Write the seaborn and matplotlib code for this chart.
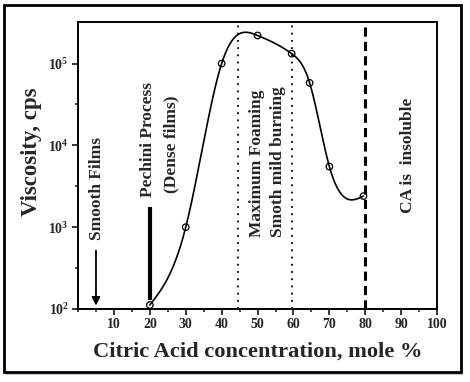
import numpy as np
import matplotlib
matplotlib.use("Agg")
import matplotlib.pyplot as plt
import matplotlib.ticker as mticker
from matplotlib.patches import Rectangle
import seaborn as sns
import pandas as pd

# ---- data ----
ca_mole_pct = [20, 30, 40, 50, 59.5, 64.5, 70, 79.5]
viscosity_cps = [112, 1000, 1.0e5, 2.2e5, 1.32e5, 5.8e4, 5.5e3, 2.4e3]
x_tick_labels = ["10", "20", "30", "40", "50", "60", "70", "80", "90", "100"]
y_tick_exps = [2, 3, 4, 5]

sns.set_theme(style="ticks")
plt.rcParams['font.family'] = ['Liberation Serif', 'DejaVu Serif']
plt.rcParams['font.weight'] = 'bold'
plt.rcParams['mathtext.fontset'] = 'custom'
plt.rcParams['mathtext.rm'] = 'Liberation Serif:bold'
plt.rcParams['mathtext.bf'] = 'Liberation Serif:bold'

df = pd.DataFrame({"x": ca_mole_pct, "y": viscosity_cps})

# natural cubic spline through the points in log-space (rendering of the smooth connecting line)
def natural_spline(x, y, xs):
    x = np.asarray(x, float); y = np.asarray(y, float)
    n = len(x); h = np.diff(x)
    A = np.zeros((n, n)); r = np.zeros(n)
    A[0, 0] = 1; A[-1, -1] = 1
    for i in range(1, n - 1):
        A[i, i - 1] = h[i - 1]; A[i, i] = 2 * (h[i - 1] + h[i]); A[i, i + 1] = h[i]
        r[i] = 6 * ((y[i + 1] - y[i]) / h[i] - (y[i] - y[i - 1]) / h[i - 1])
    M = np.linalg.solve(A, r)
    out = np.empty_like(xs)
    for k, xv in enumerate(xs):
        i = min(max(np.searchsorted(x, xv) - 1, 0), n - 2)
        t1 = x[i + 1] - xv; t0 = xv - x[i]
        out[k] = (M[i] * t1**3 + M[i + 1] * t0**3) / (6 * h[i]) \
            + (y[i] / h[i] - M[i] * h[i] / 6) * t1 + (y[i + 1] / h[i] - M[i + 1] * h[i] / 6) * t0
    return out

xs = np.linspace(ca_mole_pct[0], ca_mole_pct[-1], 400)
ys = 10 ** natural_spline(ca_mole_pct, np.log10(viscosity_cps), xs)
curve = pd.DataFrame({"x": xs, "y": ys})

fig = plt.figure(figsize=(4.70, 3.82), dpi=100)
ax = fig.add_axes([0.166, 0.191, 0.764, 0.751])

sns.lineplot(data=curve, x="x", y="y", ax=ax, color="black", lw=1.2, sort=False)
sns.scatterplot(data=df, x="x", y="y", ax=ax, marker="o", s=22, facecolor="none",
                edgecolor="black", linewidth=0.9, zorder=5)

ax.set_yscale("log")
ax.set_xlim(0, 100)
ax.set_ylim(100, 3.2e5)

ax.set_xticks(np.arange(10, 101, 10))
ax.set_xticklabels(x_tick_labels)
ax.xaxis.set_minor_locator(mticker.FixedLocator(np.arange(0, 101, 5)))
ax.set_yticks([10.0 ** e for e in y_tick_exps])
ax.set_yticklabels([r"$\mathbf{10^{%d}}$" % e for e in y_tick_exps])
ax.yaxis.set_minor_locator(mticker.FixedLocator([10 ** 2.5, 10 ** 3.5, 10 ** 4.5]))
ax.yaxis.set_minor_formatter(mticker.NullFormatter())
ax.tick_params(which="major", direction="out", length=4.5, width=1.3, labelsize=10, pad=2)
ax.tick_params(which="minor", direction="out", length=2.5, width=1.2)
for lab in ax.get_xticklabels() + ax.get_yticklabels():
    lab.set_fontweight("bold")
for sp in ax.spines.values():
    sp.set_visible(True); sp.set_linewidth(1.4); sp.set_color("black")

ax.set_xlabel("Citric Acid concentration, mole %", fontsize=16.2, fontweight="bold")
ax.set_ylabel("Viscosity, cps", fontsize=16.5, fontweight="bold")
ax.xaxis.set_label_coords(0.5, -0.112)
ax.yaxis.set_label_coords(-0.10, 0.548)

# reference lines
ax.axvline(44.5, color="black", lw=1.3, ls=(0, (1, 3)))
ax.axvline(59.6, color="black", lw=1.3, ls=(0, (1, 3)))
ax.axvline(80, color="black", lw=2.2, ls=(0, (3, 1.7)))

# markers for regions
ax.annotate("", xy=(5, 102), xytext=(5, 560),
            arrowprops=dict(arrowstyle="-|>", color="black", lw=1.3, mutation_scale=12))
ax.plot([20, 20], [128, 1780], color="black", lw=3, solid_capstyle="butt")

tk = dict(rotation=90, ha="center", va="bottom", fontsize=12.5, fontweight="bold")
ax.text(5.3, 700, "Smooth Films", **tk)
ax.text(19.6, 2350, "Pechini Process", **tk)
ax.text(26, 2600, "(Dense films)", **tk)
ax.text(49.8, 760, "Maximum Foaming", **tk)
ax.text(55.8, 760, "Smoth mild burning", **tk)
ax.text(92, 1480, "CA is  insoluble", **tk)

# outer frame with shadow
fig.patches.append(Rectangle((6 / 470, 1 - 375 / 382), 457 / 470, 367 / 382, transform=fig.transFigure,
                             facecolor="#b0b0b0", edgecolor="none", zorder=-2, alpha=0.7))
fig.patches.append(Rectangle((4 / 470, 1 - 372 / 382), 457 / 470, 367 / 382, transform=fig.transFigure,
                             facecolor="white", edgecolor="black", lw=2, zorder=-1))

fig.savefig("out.png", dpi=100)
